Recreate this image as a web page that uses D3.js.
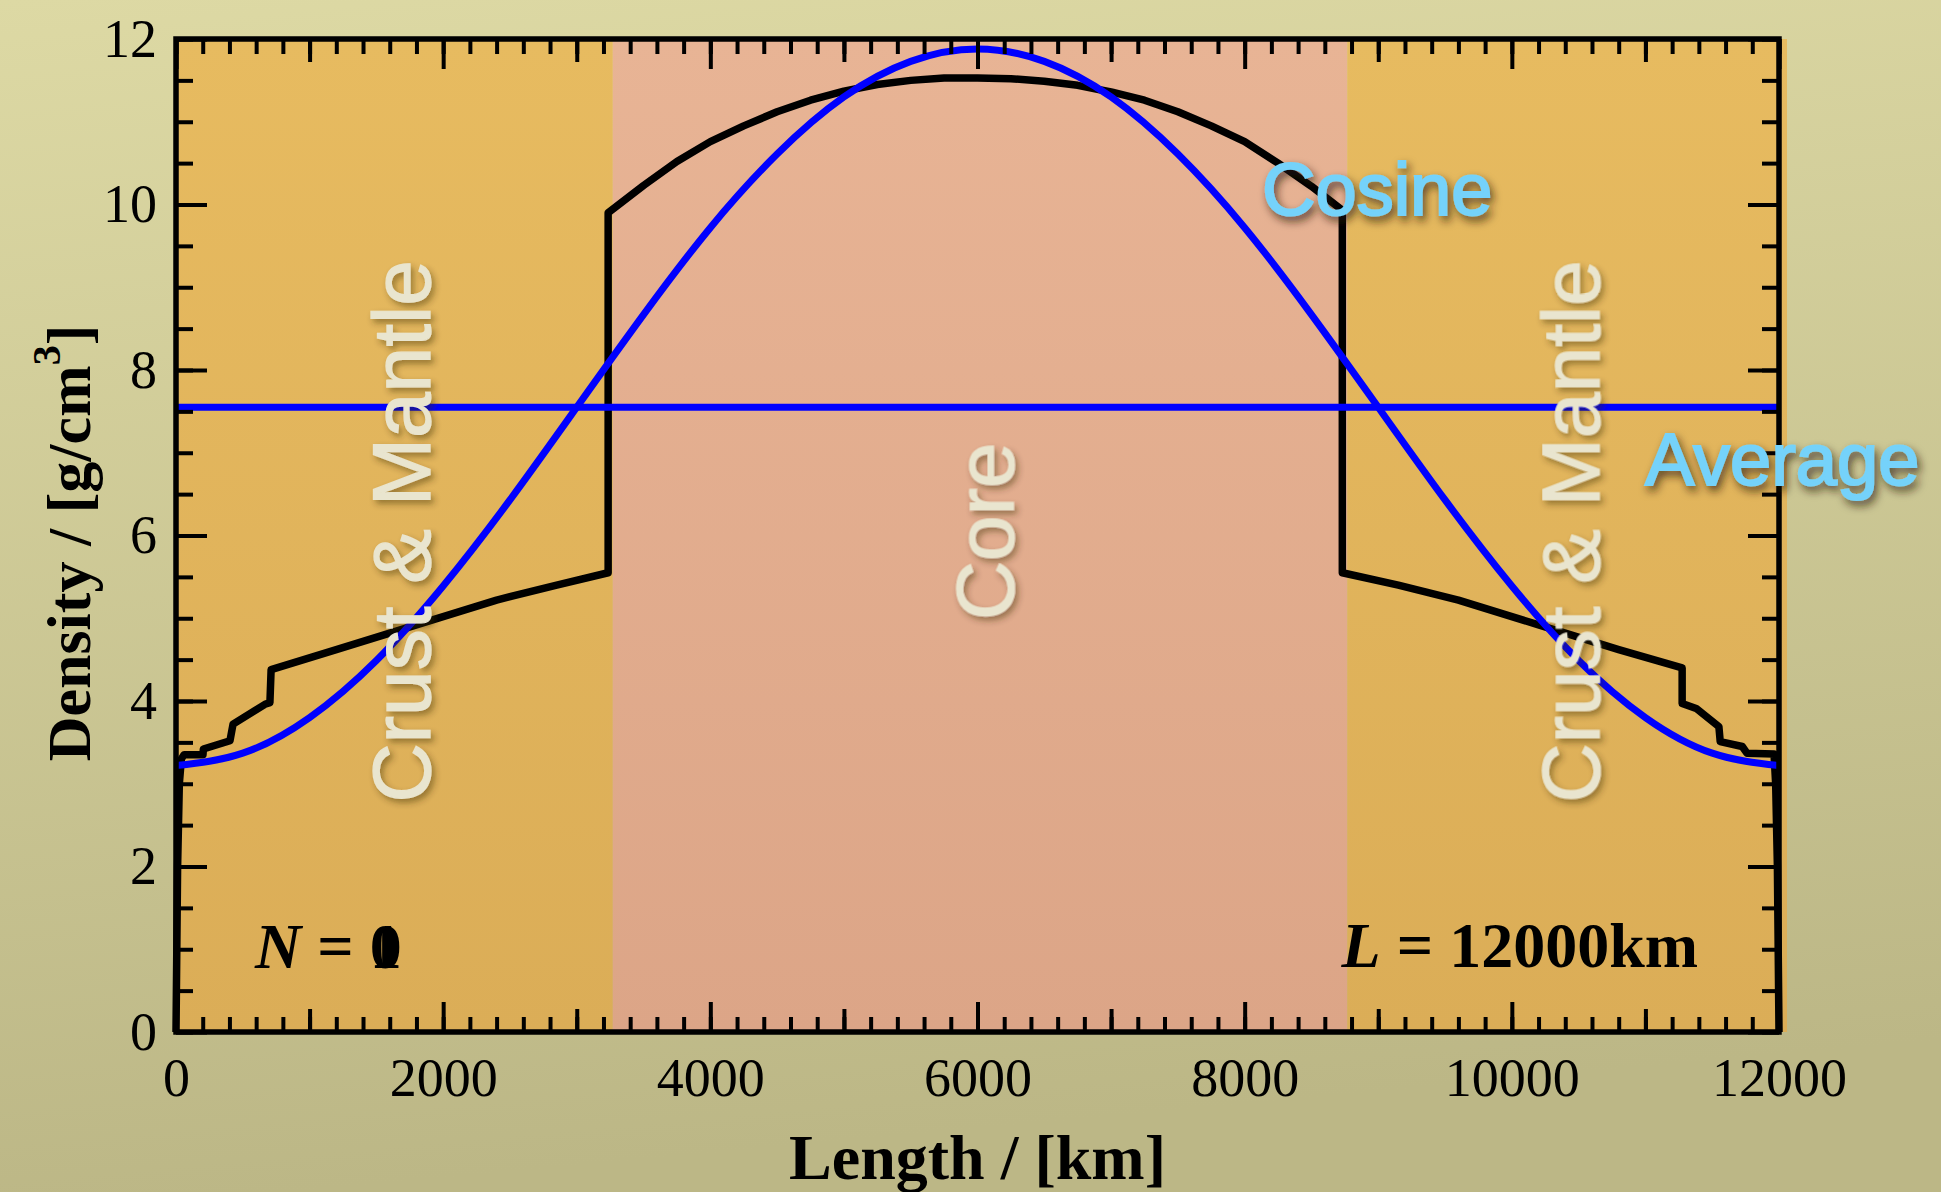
<!DOCTYPE html>
<html>
<head>
<meta charset="utf-8">
<script src="https://cdn.jsdelivr.net/npm/d3@7"></script>
<style>
  body { margin: 0; background: #ccc796; }
  svg { display: block; }
</style>
</head>
<body>
<div id="chart"></div>
<script>
// Data
//= ================================
// density profile along the chord (black line)
var densityKm = [0, 12, 25, 40, 60, 202, 205, 404, 427, 666, 703, 712,
    1200, 1800, 2400, 2850, 3235,
    3235, 3500, 3750, 4000, 4250, 4500, 4750, 5000, 5250, 5500, 5750, 6000,
    6250, 6500, 6750, 7000, 7250, 7500, 7750, 8000, 8250, 8500, 8731,
    8731, 9150, 9600, 10200, 10800, 11275,
    11275, 11380, 11550, 11560, 11725, 11760, 11963, 11975, 11988, 12000];
var densityVal = [0, 2.0, 3.0, 3.3, 3.35, 3.35, 3.42, 3.52, 3.72, 3.96, 3.98, 4.38,
    4.62, 4.92, 5.22, 5.4, 5.55,
    9.9, 10.23, 10.52, 10.76, 10.95, 11.12, 11.26, 11.37, 11.45, 11.5, 11.53, 11.53,
    11.52, 11.49, 11.44, 11.36, 11.26, 11.12, 10.95, 10.76, 10.5, 10.22, 9.93,
    5.55, 5.4, 5.22, 4.92, 4.62, 4.4,
    3.97, 3.91, 3.69, 3.51, 3.45, 3.37, 3.36, 3.0, 2.0, 0];

// cosine fit (blue curve)
var cosineKm = [0, 500, 1000, 1500, 2000, 2500, 3000, 3500, 4000, 4500, 5000, 5500, 6000,
    6500, 7000, 7500, 8000, 8500, 9000, 9500, 10000, 10500, 11000, 11500, 12000];
var cosineVal = [3.22, 3.37, 3.80, 4.49, 5.39, 6.43, 7.55, 8.67, 9.72, 10.61, 11.30, 11.73, 11.88,
    11.73, 11.30, 10.61, 9.72, 8.67, 7.55, 6.43, 5.39, 4.49, 3.80, 3.37, 3.22];

// average density (blue flat line)
var averageKm = [0, 12000];
var averageVal = [7.55, 7.55];

// shaded regions
var regionNames = ["Crust & Mantle", "Core", "Crust & Mantle"];
var regionStart = [0, 3270, 8768];
var regionEnd = [3270, 8768, 12060];
var regionLabelKm = [1680, 6045, 10430];

var xTickLabels = [0, 2000, 4000, 6000, 8000, 10000, 12000];
var yTickLabels = [0, 2, 4, 6, 8, 10, 12];

// Setup the chart
//= ================================
var svgWidth = 1941;
var svgHeight = 1192;

var margin = {
    top: 39,
    right: 162,
    bottom: 160,
    left: 176
};

var width = svgWidth - margin.left - margin.right;
var height = svgHeight - margin.top - margin.bottom;

var svg = d3.select("#chart")
    .append("svg")
    .attr("width", svgWidth)
    .attr("height", svgHeight);

var defs = svg.append("defs");

var bgGrad = defs.append("linearGradient")
    .attr("id", "bgGrad")
    .attr("x1", 0).attr("y1", 0).attr("x2", 0.15).attr("y2", 1);
bgGrad.append("stop").attr("offset", "0%").attr("stop-color", "#ddd9a4");
bgGrad.append("stop").attr("offset", "100%").attr("stop-color", "#bcb786");

var mantleGrad = defs.append("linearGradient")
    .attr("id", "mantleGrad")
    .attr("x1", 0).attr("y1", 0).attr("x2", 0).attr("y2", 1);
mantleGrad.append("stop").attr("offset", "0%").attr("stop-color", "#e7bb60");
mantleGrad.append("stop").attr("offset", "100%").attr("stop-color", "#dbad57");

var coreGrad = defs.append("linearGradient")
    .attr("id", "coreGrad")
    .attr("x1", 0).attr("y1", 0).attr("x2", 0).attr("y2", 1);
coreGrad.append("stop").attr("offset", "0%").attr("stop-color", "#e8b495");
coreGrad.append("stop").attr("offset", "100%").attr("stop-color", "#dca587");

var softShadow = defs.append("filter")
    .attr("id", "softShadow")
    .attr("x", "-20%").attr("y", "-20%").attr("width", "140%").attr("height", "140%");
softShadow.append("feDropShadow")
    .attr("dx", 3).attr("dy", 4).attr("stdDeviation", 3)
    .attr("flood-color", "#3a2a10").attr("flood-opacity", 0.45);

var darkShadow = defs.append("filter")
    .attr("id", "darkShadow")
    .attr("x", "-20%").attr("y", "-30%").attr("width", "140%").attr("height", "160%");
darkShadow.append("feDropShadow")
    .attr("dx", 3).attr("dy", 5).attr("stdDeviation", 4)
    .attr("flood-color", "#2a1e08").attr("flood-opacity", 0.7);

svg.append("rect")
    .attr("width", svgWidth)
    .attr("height", svgHeight)
    .attr("fill", "url(#bgGrad)");

var chartGroup = svg.append("g")
    .attr("transform", `translate(${margin.left}, ${margin.top})`);

var xLinearScale = d3.scaleLinear()
    .domain([0, 12000])
    .range([0, width]);

var yLinearScale = d3.scaleLinear()
    .domain([0, 12])
    .range([height, 0]);

// Region shading
chartGroup.selectAll(".region")
    .data(regionNames)
    .enter()
    .append("rect")
    .attr("class", "region")
    .attr("x", (d, i) => xLinearScale(regionStart[i]))
    .attr("width", (d, i) => xLinearScale(regionEnd[i]) - xLinearScale(regionStart[i]))
    .attr("y", 0)
    .attr("height", height)
    .attr("fill", d => d === "Core" ? "url(#coreGrad)" : "url(#mantleGrad)");

// Lines
var densityLine = d3.line()
    .x(d => xLinearScale(d[0]))
    .y(d => yLinearScale(d[1]));

chartGroup.append("path")
    .datum(d3.zip(densityKm, densityVal))
    .attr("d", densityLine)
    .attr("fill", "none")
    .attr("stroke", "#000")
    .attr("stroke-width", 7.5)
    .attr("stroke-linejoin", "round");

chartGroup.append("path")
    .datum(d3.zip(averageKm, averageVal))
    .attr("d", densityLine)
    .attr("fill", "none")
    .attr("stroke", "#0000ff")
    .attr("stroke-width", 7);

chartGroup.append("path")
    .datum(d3.zip(cosineKm, cosineVal))
    .attr("d", densityLine.curve(d3.curveNatural))
    .attr("fill", "none")
    .attr("stroke", "#0000ff")
    .attr("stroke-width", 7);

// Axes: ticks point inwards, three tick lengths on x
function styleAxis(g) {
    g.select(".domain").remove();
    g.selectAll(".tick line").attr("stroke", "#000").attr("stroke-width", 4);
    g.attr("font-family", "'Liberation Serif', 'Times New Roman', serif")
        .attr("font-size", 54);
    g.selectAll(".tick text").attr("fill", "#000");
}

var minorX = d3.range(0, 12001, 200);
var midX = d3.range(1000, 12000, 2000);
var minorY = d3.range(0, 12.01, 0.5);

[
    [d3.axisBottom, minorX, 15, height],
    [d3.axisBottom, midX, 23, height],
    [d3.axisTop, minorX, 15, 0],
    [d3.axisTop, midX, 23, 0],
    [d3.axisTop, xTickLabels, 30, 0]
].forEach(function (a) {
    chartGroup.append("g")
        .attr("transform", `translate(0, ${a[3]})`)
        .call(a[0](xLinearScale).tickValues(a[1]).tickSize(-a[2]).tickFormat(""))
        .call(styleAxis);
});

chartGroup.append("g")
    .attr("transform", `translate(0, ${height})`)
    .call(d3.axisBottom(xLinearScale).tickValues(xTickLabels).tickSize(-30).tickPadding(26).tickFormat(d3.format("d")))
    .call(styleAxis);

[
    [d3.axisLeft, minorY, 17, 0],
    [d3.axisRight, minorY, 17, width],
    [d3.axisRight, yTickLabels, 31, width]
].forEach(function (a) {
    chartGroup.append("g")
        .attr("transform", `translate(${a[3]}, 0)`)
        .call(a[0](yLinearScale).tickValues(a[1]).tickSize(-a[2]).tickFormat(""))
        .call(styleAxis);
});

chartGroup.append("g")
    .call(d3.axisLeft(yLinearScale).tickValues(yTickLabels).tickSize(-31).tickPadding(19).tickFormat(d3.format("d")))
    .call(styleAxis);

// Frame
chartGroup.append("rect")
    .attr("x", 0)
    .attr("y", 0)
    .attr("width", width)
    .attr("height", height)
    .attr("fill", "none")
    .attr("stroke", "#000")
    .attr("stroke-width", 5.5);

// Region labels
var regionLabels = chartGroup.append("g")
    .attr("filter", "url(#softShadow)");

regionLabels.selectAll("text")
    .data(regionNames)
    .enter()
    .append("text")
    .attr("transform", (d, i) => `translate(${xLinearScale(regionLabelKm[i])}, ${yLinearScale(6.05)}) rotate(-90)`)
    .attr("text-anchor", "middle")
    .attr("dy", "0.36em")
    .attr("font-family", "'Liberation Sans', Arial, sans-serif")
    .attr("font-size", 82)
    .attr("fill", "#e9e5cf")
    .attr("stroke", "#e9e5cf")
    .attr("stroke-width", 1.2)
    .text(d => d);

// Curve labels
var curveLabels = chartGroup.append("g")
    .attr("filter", "url(#darkShadow)")
    .attr("font-family", "'Liberation Sans', Arial, sans-serif")
    .attr("font-size", 74)
    .attr("fill", "#74d2fa")
    .attr("stroke", "#74d2fa")
    .attr("stroke-width", 2);

curveLabels.append("text")
    .attr("x", xLinearScale(8130))
    .attr("y", yLinearScale(9.87))
    .text("Cosine");

curveLabels.append("text")
    .attr("x", xLinearScale(10997))
    .attr("y", yLinearScale(6.61))
    .text("Average");

// N and L labels
var nLabel = chartGroup.append("text")
    .attr("x", xLinearScale(591))
    .attr("y", yLinearScale(0.77))
    .attr("font-family", "'Liberation Serif', 'Times New Roman', serif")
    .attr("font-size", 64)
    .attr("font-weight", "bold")
    .attr("fill", "#000");
nLabel.append("tspan").attr("font-style", "italic").text("N");
nLabel.append("tspan").text(" = ");
var zeroSpan = nLabel.append("tspan").text("0");

var nOverlay = chartGroup.append("text")
    .attr("font-family", "'Liberation Serif', 'Times New Roman', serif")
    .attr("font-size", 64)
    .attr("font-weight", "bold")
    .attr("fill", "#000")
    .attr("y", yLinearScale(0.77));

var lLabel = chartGroup.append("text")
    .attr("x", xLinearScale(11394))
    .attr("y", yLinearScale(0.78))
    .attr("text-anchor", "end")
    .attr("font-family", "'Liberation Serif', 'Times New Roman', serif")
    .attr("font-size", 64)
    .attr("font-weight", "bold")
    .attr("fill", "#000");
lLabel.append("tspan").attr("font-style", "italic").text("L");
lLabel.append("tspan").text(" = 12000km");

// the frame caught two counter values on top of each other
var zeroBox = zeroSpan.node().getStartPositionOfChar(0);
nOverlay.attr("x", zeroBox.x).text("1");

// Axis titles
svg.append("text")
    .attr("x", margin.left + width / 2)
    .attr("y", 1179)
    .attr("text-anchor", "middle")
    .attr("font-family", "'Liberation Serif', 'Times New Roman', serif")
    .attr("font-size", 64)
    .attr("font-weight", "bold")
    .text("Length / [km]");

var yTitle = svg.append("text")
    .attr("transform", "translate(90, 543) rotate(-90)")
    .attr("text-anchor", "middle")
    .attr("font-family", "'Liberation Serif', 'Times New Roman', serif")
    .attr("font-size", 62)
    .attr("font-weight", "bold");
yTitle.append("tspan").text("Density / [g/cm");
yTitle.append("tspan").attr("font-size", 40).attr("dy", -30).text("3");
yTitle.append("tspan").attr("dy", 30).text("]");
</script>
</body>
</html>
